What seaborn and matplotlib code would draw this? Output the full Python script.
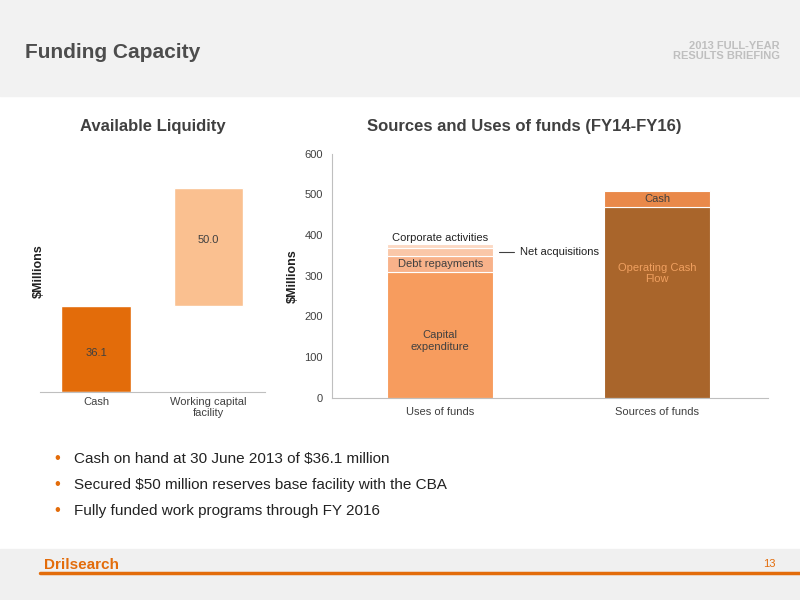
import matplotlib
matplotlib.use("Agg")
import matplotlib.pyplot as plt
import seaborn as sns
import pandas as pd
from matplotlib.patches import Rectangle

sns.set_style("white")
plt.rcParams['font.family'] = ['Liberation Sans', 'DejaVu Sans']

liq_cats = ["Cash", "Working capital\nfacility"]
liq_vals = [36.1, 50.0]

uses_labels = ["Capital\nexpenditure", "Debt repayments", "Net acquisitions", "Corporate activities"]
uses_vals = [310, 38, 20, 10]
src_labels = ["Operating Cash\nFlow", "Cash"]
src_vals = [470, 37]
su_cats = ["Uses of funds", "Sources of funds"]
yticks = [0, 100, 200, 300, 400, 500, 600]

fig = plt.figure(figsize=(8, 6), dpi=100)
fig.patch.set_facecolor("white")
fig.patches.append(Rectangle((0, 0.84), 1, 0.16, transform=fig.transFigure, color="#F2F2F2", zorder=0))
fig.patches.append(Rectangle((0, 0), 1, 0.085, transform=fig.transFigure, color="#F0F0F0", zorder=0))
fig.add_artist(plt.Line2D([0.05, 1], [0.045, 0.045], transform=fig.transFigure, color="#E36C0A", lw=2.5))
fig.text(0.031, 0.912, "Funding Capacity", fontsize=15, fontweight="bold", color="#4D4D4D", va="center")
fig.text(0.975, 0.915, "2013 FULL-YEAR\nRESULTS BRIEFING", fontsize=8, fontweight="bold", color="#BFBFBF",
         ha="right", va="center", linespacing=1.1)
fig.text(0.055, 0.047, "Drilsearch", fontsize=11, fontweight="bold", color="#E36C0A", va="bottom")
fig.text(0.97, 0.055, "13", fontsize=8, color="#E36C0A", ha="right")
bullets = ["Cash on hand at 30 June 2013 of $36.1 million",
           "Secured $50 million reserves base facility with the CBA",
           "Fully funded work programs through FY 2016"]
for i, b in enumerate(bullets):
    y = 0.235 - i * 0.043
    fig.text(0.068, y, "•", fontsize=12, color="#E36C0A", va="center")
    fig.text(0.092, y, b, fontsize=11, color="#222222", va="center")

# Left chart
ax1 = fig.add_axes([0.05, 0.347, 0.281, 0.403])
df1 = pd.DataFrame({"cat": liq_cats, "val": liq_vals})
sns.barplot(data=df1.iloc[:1], x="cat", y="val", ax=ax1, color="#E36C0A", width=0.62, order=liq_cats, saturation=1)
ax1.bar([1], [liq_vals[1]], bottom=[liq_vals[0]], color="#FAC090", width=0.62)
ax1.text(0, liq_vals[0] * 0.45, f"{liq_vals[0]:.1f}", ha="center", va="center", fontsize=8, color="#404040")
ax1.text(1, liq_vals[0] + liq_vals[1] * 0.5 + 3, f"{liq_vals[1]:.1f}", ha="center", va="center", fontsize=8, color="#404040")
ax1.set_ylim(0, 102)
ax1.set_xlim(-0.5, 1.5)
ax1.set_yticks([])
ax1.set_xlabel("")
ax1.set_ylabel("$Millions", fontsize=9, fontweight="bold", color="#222222")
ax1.yaxis.set_label_coords(0.02, 0.5)
ax1.tick_params(axis="x", labelsize=8, colors="#404040", length=0)
for s in ["top", "right", "left"]:
    ax1.spines[s].set_visible(False)
ax1.spines["bottom"].set_color("#BFBFBF")
ax1.set_title("Available Liquidity", fontsize=12, fontweight="bold", color="#404040", pad=14)

# Right chart
ax2 = fig.add_axes([0.415, 0.337, 0.545, 0.407])
df2 = pd.DataFrame({"cat": su_cats, "val": [uses_vals[0], src_vals[0]]})
sns.barplot(data=df2, x="cat", y="val", ax=ax2, palette=["#F79C5E", "#A9652B"], hue="cat",
            width=0.49, saturation=1, legend=False)
for p in ax2.patches:
    p.set_edgecolor("white"); p.set_linewidth(0.8)
ucols = ["#F79C5E", "#F8B28A", "#FAC7A8", "#FCD9C4"]
b = uses_vals[0]
for v, c in zip(uses_vals[1:], ucols[1:]):
    ax2.bar([0], [v], bottom=[b], color=c, width=0.49, edgecolor="white", linewidth=0.8)
    b += v
ax2.bar([1], [src_vals[1]], bottom=[src_vals[0]], color="#E9894A", width=0.49, edgecolor="white", linewidth=0.8)
ax2.text(0, uses_vals[0] * 0.45, uses_labels[0], ha="center", va="center", fontsize=8, color="#404040")
ax2.text(0, uses_vals[0] + uses_vals[1] / 2, uses_labels[1], ha="center", va="center", fontsize=8, color="#404040")
na_mid = uses_vals[0] + uses_vals[1] + uses_vals[2] / 2
ax2.plot([0.27, 0.34], [na_mid, na_mid], color="#404040", lw=0.8)
ax2.text(0.37, na_mid, uses_labels[2], ha="left", va="center", fontsize=8, color="#222222")
ax2.text(0, sum(uses_vals) + 3, uses_labels[3], ha="center", va="bottom", fontsize=8, color="#222222")
ax2.text(1, src_vals[0] * 0.65, src_labels[0], ha="center", va="center", fontsize=8, color="#F0A060")
ax2.text(1, src_vals[0] + src_vals[1] / 2, src_labels[1], ha="center", va="center", fontsize=8, color="#404040")
ax2.set_ylim(0, 600)
ax2.set_yticks(yticks)
ax2.set_xlim(-0.498, 1.51)
ax2.set_xlabel("")
ax2.set_ylabel("$Millions", fontsize=9, fontweight="bold", color="#222222", labelpad=4)
ax2.tick_params(axis="both", labelsize=8, colors="#404040", length=3, color="#BFBFBF")
for s in ["top", "right"]:
    ax2.spines[s].set_visible(False)
ax2.spines["bottom"].set_color("#BFBFBF")
ax2.spines["left"].set_color("#BFBFBF")
ax2.set_title("Sources and Uses of funds (FY14-FY16)", fontsize=12, fontweight="bold", color="#404040",
              pad=16, x=0.44)

fig.savefig("out.png", dpi=100)
